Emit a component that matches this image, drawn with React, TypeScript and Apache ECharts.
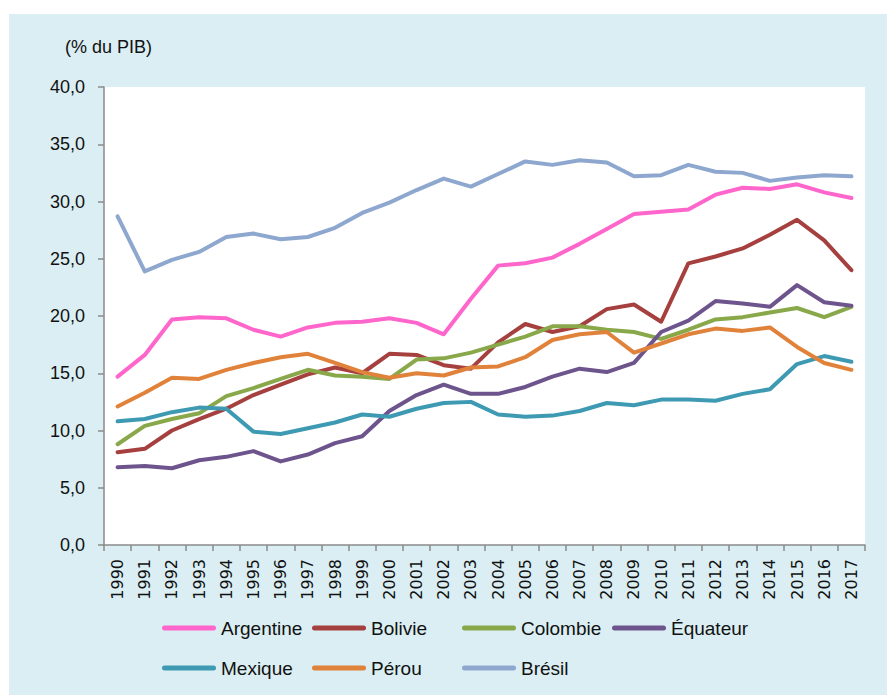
import React, { useEffect, useRef } from "react";
import * as echarts from "echarts";

// Recettes fiscales en % du PIB, 1990–2017
const years = [
  "1990", "1991", "1992", "1993", "1994", "1995", "1996", "1997", "1998", "1999",
  "2000", "2001", "2002", "2003", "2004", "2005", "2006", "2007", "2008", "2009",
  "2010", "2011", "2012", "2013", "2014", "2015", "2016", "2017",
];

const argentine = [14.7, 16.6, 19.7, 19.9, 19.8, 18.8, 18.2, 19.0, 19.4, 19.5, 19.8, 19.4, 18.4, 21.5, 24.4, 24.6, 25.1, 26.3, 27.6, 28.9, 29.1, 29.3, 30.6, 31.2, 31.1, 31.5, 30.8, 30.3];
const bolivie = [8.1, 8.4, 10.0, 11.0, 11.9, 13.1, 14.0, 14.9, 15.5, 15.0, 16.7, 16.6, 15.7, 15.4, 17.7, 19.3, 18.6, 19.1, 20.6, 21.0, 19.5, 24.6, 25.2, 25.9, 27.1, 28.4, 26.6, 24.0];
const colombie = [8.8, 10.4, 11.0, 11.5, 13.0, 13.7, 14.5, 15.3, 14.8, 14.7, 14.5, 16.2, 16.3, 16.8, 17.5, 18.2, 19.1, 19.1, 18.8, 18.6, 18.0, 18.8, 19.7, 19.9, 20.3, 20.7, 19.9, 20.8];
const equateur = [6.8, 6.9, 6.7, 7.4, 7.7, 8.2, 7.3, 7.9, 8.9, 9.5, 11.7, 13.1, 14.0, 13.2, 13.2, 13.8, 14.7, 15.4, 15.1, 15.9, 18.6, 19.6, 21.3, 21.1, 20.8, 22.7, 21.2, 20.9];
const mexique = [10.8, 11.0, 11.6, 12.0, 11.9, 9.9, 9.7, 10.2, 10.7, 11.4, 11.2, 11.9, 12.4, 12.5, 11.4, 11.2, 11.3, 11.7, 12.4, 12.2, 12.7, 12.7, 12.6, 13.2, 13.6, 15.8, 16.5, 16.0];
const perou = [12.1, 13.3, 14.6, 14.5, 15.3, 15.9, 16.4, 16.7, 15.9, 15.1, 14.6, 15.0, 14.8, 15.5, 15.6, 16.4, 17.9, 18.4, 18.6, 16.8, 17.6, 18.4, 18.9, 18.7, 19.0, 17.3, 15.9, 15.3];
const bresil = [28.7, 23.9, 24.9, 25.6, 26.9, 27.2, 26.7, 26.9, 27.7, 29.0, 29.9, 31.0, 32.0, 31.3, 32.4, 33.5, 33.2, 33.6, 33.4, 32.2, 32.3, 33.2, 32.6, 32.5, 31.8, 32.1, 32.3, 32.2];

const seriesNames = ["Argentine", "Bolivie", "Colombie", "Équateur", "Mexique", "Pérou", "Brésil"];
const seriesValues = [argentine, bolivie, colombie, equateur, mexique, perou, bresil];
const seriesColors = ["#FF66CC", "#A5403E", "#88A84A", "#6E548D", "#3D9AB2", "#E0823A", "#8EA7CF"];

const unitLabel = "(% du PIB)";

const SANS = "'Liberation Sans', Arial, sans-serif";
const TEXT = "#111111";
const AXIS = "#8A8A8A";

// capsule-shaped legend swatch
const legendIcon = "path://M2.5,0H51.5A2.5,2.5,0,0,1,51.5,5H2.5A2.5,2.5,0,0,1,2.5,0Z";

function legendBlock(names: string[], top: number) {
  return {
    data: names,
    left: 153,
    top,
    padding: 0,
    itemGap: 0,
    itemWidth: 54,
    itemHeight: 5,
    icon: legendIcon,
    itemStyle: { borderWidth: 0 },
    selectedMode: false,
    textStyle: {
      fontFamily: SANS,
      fontSize: 19,
      color: TEXT,
      lineHeight: 20,
      width: 91,
      overflow: "none",
    },
  };
}

export default function App() {
  const ref = useRef<HTMLDivElement>(null);

  useEffect(() => {
    if (!ref.current) return;
    const chart = echarts.init(ref.current, undefined, { renderer: "svg" });

    chart.setOption({
      animation: false,
      backgroundColor: "#DAEEF3",
      grid: {
        left: 95,
        top: 73,
        right: 22,
        bottom: 150,
        show: true,
        backgroundColor: "#FFFFFF",
        borderWidth: 0,
      },
      graphic: [
        {
          type: "text",
          left: 56,
          top: 24,
          style: { text: unitLabel, font: `18px ${SANS}`, fill: TEXT },
        },
      ],
      legend: [
        legendBlock(seriesNames.slice(0, 4), 604),
        legendBlock(seriesNames.slice(4), 644),
      ],
      xAxis: {
        type: "category",
        data: years,
        boundaryGap: true,
        axisLine: { show: true, lineStyle: { color: AXIS, width: 1.5 } },
        axisTick: { show: true, interval: 0, length: 6, lineStyle: { color: AXIS, width: 1.5 } },
        axisLabel: {
          interval: 0,
          rotate: 90,
          margin: 14,
          fontFamily: "'DejaVu Sans', sans-serif",
          fontSize: 16,
          color: TEXT,
        },
        splitLine: { show: false },
      },
      yAxis: {
        type: "value",
        min: 0,
        max: 40,
        interval: 5,
        axisLine: { show: true, lineStyle: { color: AXIS, width: 1.5 } },
        axisTick: { show: true, length: 6, lineStyle: { color: AXIS, width: 1.5 } },
        axisLabel: {
          margin: 19,
          fontFamily: SANS,
          fontSize: 18,
          color: TEXT,
          formatter: (v: number) => v.toFixed(1).replace(".", ","),
        },
        splitLine: { show: false },
      },
      series: seriesNames.map((name, i) => ({
        name,
        type: "line",
        data: seriesValues[i],
        color: seriesColors[i],
        symbol: "none",
        lineStyle: { width: 4, color: seriesColors[i], cap: "round", join: "round" },
      })),
    });

    return () => chart.dispose();
  }, []);

  return (
    <div
      ref={ref}
      style={{ position: "absolute", left: 9, top: 14, width: 878, height: 681 }}
    />
  );
}
